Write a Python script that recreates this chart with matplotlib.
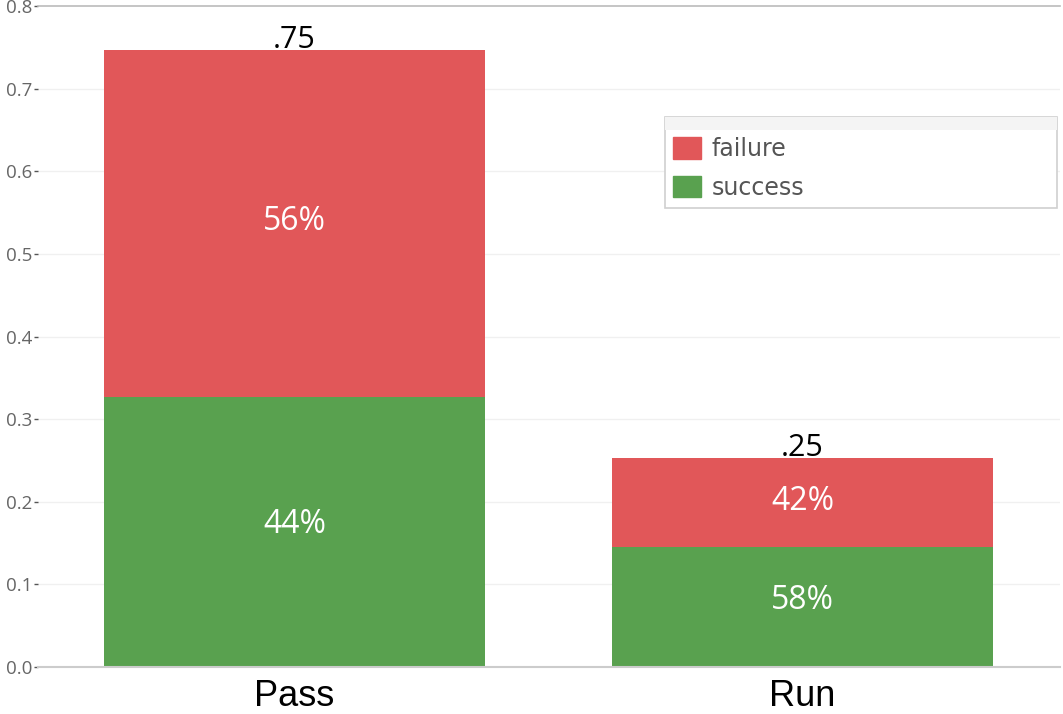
import matplotlib
matplotlib.use("Agg")
import matplotlib.pyplot as plt
from matplotlib.patches import Patch, Rectangle

categories = ["Pass", "Run"]
success = [0.327, 0.145]
failure = [0.42, 0.108]
success_pct = ["44%", "58%"]
failure_pct = ["56%", "42%"]
totals_lbl = [".75", ".25"]
yticks = [0.0, 0.1, 0.2, 0.3, 0.4, 0.5, 0.6, 0.7, 0.8]

RED = "#E15759"
GREEN = "#59A14F"

fig = plt.figure(figsize=(10.63, 7.14), dpi=100)
ax = fig.add_axes([38/1063, 47/714, 1022/1063, 661/714])

x = list(range(len(categories)))
ax.bar(x, success, width=0.75, color=GREEN, zorder=2)
ax.bar(x, failure, width=0.75, bottom=success, color=RED, zorder=2)

for i in x:
    ax.annotate(success_pct[i], (i, success[i] / 2), xytext=(0, 5),
                textcoords="offset points", ha="center", va="center",
                color="white", fontsize=23, family="Open Sans", zorder=3)
    ax.annotate(failure_pct[i], (i, success[i] + failure[i] / 2), xytext=(0, 1),
                textcoords="offset points", ha="center", va="center",
                color="white", fontsize=23, family="Open Sans", zorder=3)
    ax.text(i, success[i] + failure[i] - 0.006, totals_lbl[i], ha="center", va="bottom",
            color="black", fontsize=22, family="Open Sans", zorder=3)

ax.set_xlim(-0.505, 1.507)
ax.set_ylim(0, 0.8)
ax.set_xticks(x)
ax.set_xticklabels(categories, fontsize=26, family="Liberation Sans", color="black")
ax.tick_params(axis="x", length=0, pad=9)
ax.set_yticks(yticks)
ax.set_yticklabels([f"{v:.1f}" for v in yticks], fontsize=13.5, color="#666666",
                   family="Open Sans")
ax.tick_params(axis="y", length=3, width=1, color="#555555", pad=1)

for s in ["left", "right"]:
    ax.spines[s].set_visible(False)
ax.spines["bottom"].set_color("#cccccc")
ax.spines["bottom"].set_linewidth(1.5)
ax.spines["top"].set_color("#bbbbbb")
ax.spines["top"].set_linewidth(1.2)

for v in yticks[1:-1]:
    ax.axhline(v, color="#f0f0f0", linewidth=1, zorder=0)

# legend box
lx0, lx1 = (665-38)/1022, (1057-38)/1022
ly0, ly1 = (667-208)/661, (667-117)/661
ax.add_patch(Rectangle((lx0, ly0), lx1-lx0, ly1-ly0, transform=ax.transAxes,
                       facecolor="white", edgecolor="#d0d0d0", linewidth=1.2, zorder=4))
band_h = 13/661
ax.add_patch(Rectangle((lx0, ly1-band_h), lx1-lx0, band_h, transform=ax.transAxes,
                       facecolor="#f4f4f4", edgecolor="none", zorder=4))
handles = [Patch(facecolor=RED, edgecolor=RED), Patch(facecolor=GREEN, edgecolor=GREEN)]
leg = ax.legend(handles, ["failure", "success"], loc="upper left",
                bbox_to_anchor=((673-38)/1022, (667-137)/661), frameon=False,
                prop={"family": "DejaVu Sans", "size": 17}, handlelength=1.17,
                handleheight=1.04, handletextpad=0.45, labelspacing=0.62,
                borderpad=0, borderaxespad=0)
for t in leg.get_texts():
    t.set_color("#555555")
leg.set_zorder(5)

fig.savefig("out.png", dpi=100)
